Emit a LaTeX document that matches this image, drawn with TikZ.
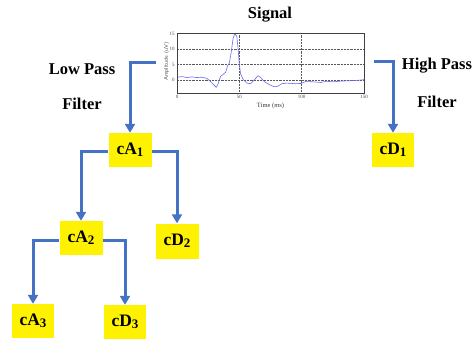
\documentclass[tikz,border=0pt]{standalone}
\usepackage{fontspec}
\setmainfont{Liberation Serif}
\usetikzlibrary{arrows.meta}
\definecolor{lineblue}{RGB}{68,114,196}
\definecolor{sigblue}{RGB}{105,105,240}
\newcommand\boxsub[1]{\raisebox{-2pt}{\fontsize{13}{13}\selectfont #1}}
\begin{document}
\begin{tikzpicture}[x=1pt,y=-1pt,
  box/.style={fill=yellow,minimum width=43pt,minimum height=34pt,inner sep=0pt,font=\fontsize{17.5}{17.5}\selectfont\bfseries},
  conn/.style={draw=lineblue,line width=3pt,-{Triangle[width=10pt,length=9pt]}},
  lbl/.style={font=\fontsize{16.5}{16.5}\selectfont\bfseries},
  tick/.style={font=\fontsize{5}{5}\selectfont,text=black!70,inner sep=1pt},
  grid/.style={densely dotted,black!65,line width=0.45pt}]
\useasboundingbox (0,0) rectangle (476,339);

% title and filter labels
\node[lbl] (title) at (270,15) {Signal};
\node[lbl] (lp1) at (82,69) {Low Pass};
\node[lbl] (lp2) at (82,104) {Filter};
\node[lbl] (hp1) at (437,66) {High Pass};
\node[lbl] (hp2) at (437,102) {Filter};

% plot
\begin{scope}[shift={(177,80)},x=1.2467pt,y=3.1pt]
  \draw[grid] (50,-4.2) -- (50,15) (100,-4.2) -- (100,15);
  \draw[grid] (0,0) -- (150,0) (0,5) -- (150,5) (0,10) -- (150,10);
  \draw[sigblue,line width=0.6pt,line join=round] plot coordinates {
   (0,0.9) (4,1.1) (8,0.8) (12,1.0) (16,0.8) (20,0.9) (24,0.5) (27,-0.5) (30,-1.8) (31.5,-2.4) (33,-1.2) (35,1.2) (37,1.8) (39,2.5) (40.5,4.5) (42,5.5) (43.5,9) (45,13.5) (46.5,15) (48,14) (49,10) (50,5) (51,2) (53,0.2) (56,-1) (59,-1.2) (62,0) (65,1.4) (67,0.8) (70,-0.5) (74,-1.5) (78,-2.2) (81,-2.0) (84,-1.2) (88,-1.0) (95,-1.2) (100,-1.1) (103,-0.5) (110,-0.6) (115,-0.8) (120,-0.4) (125,-0.6) (130,-0.4) (135,-0.3) (140,-0.2) (145,-0.1) (150,0.1)};
  \draw[black!75,line width=0.6pt] (0,-4.2) rectangle (150,15);
  \foreach \t in {0,50,100,150} \node[tick,anchor=north] at (\t,-4.4) {\t};
  \foreach \v in {0,5,10,15} \node[tick,anchor=east] at (-1,\v) {\v};
  \node[font=\fontsize{6.5}{6.5}\selectfont,text=black!80] (tlabel) at (75,-8.3) {Time (ms)};
  \node[font=\fontsize{5.5}{5.5}\selectfont\sffamily,text=black!70,rotate=90] (alabel) at (-8.5,6) {Amplitude (uV)};
\end{scope}

% boxes
\node[box] (cA1) at (130,150) {cA\boxsub{1}};
\node[box,minimum width=42pt] (cD1) at (393,150) {cD\boxsub{1}};
\node[box] (cA2) at (81,238) {cA\boxsub{2}};
\node[box,minimum height=35pt] (cD2) at (177,241) {cD\boxsub{2}};
\node[box,minimum width=42pt] (cA3) at (33,321) {cA\boxsub{3}};
\node[box,minimum width=42pt] (cD3) at (125,322) {cD\boxsub{3}};

% connectors
\coordinate (lpstart) at (156,63);
\coordinate (hpstart) at (374,62);
\draw[conn] (lpstart) -| (cA1);
\draw[conn] (hpstart) -| (cD1);
\draw[conn] ([yshift=-2pt]cA1.west) -| (cA2);
\draw[conn] ([yshift=-2pt]cA1.east) -| (cD2);
\draw[conn] ([yshift=-2pt]cA2.west) -| (cA3);
\draw[conn] ([yshift=-2pt]cA2.east) -| (cD3);
\end{tikzpicture}
\end{document}
